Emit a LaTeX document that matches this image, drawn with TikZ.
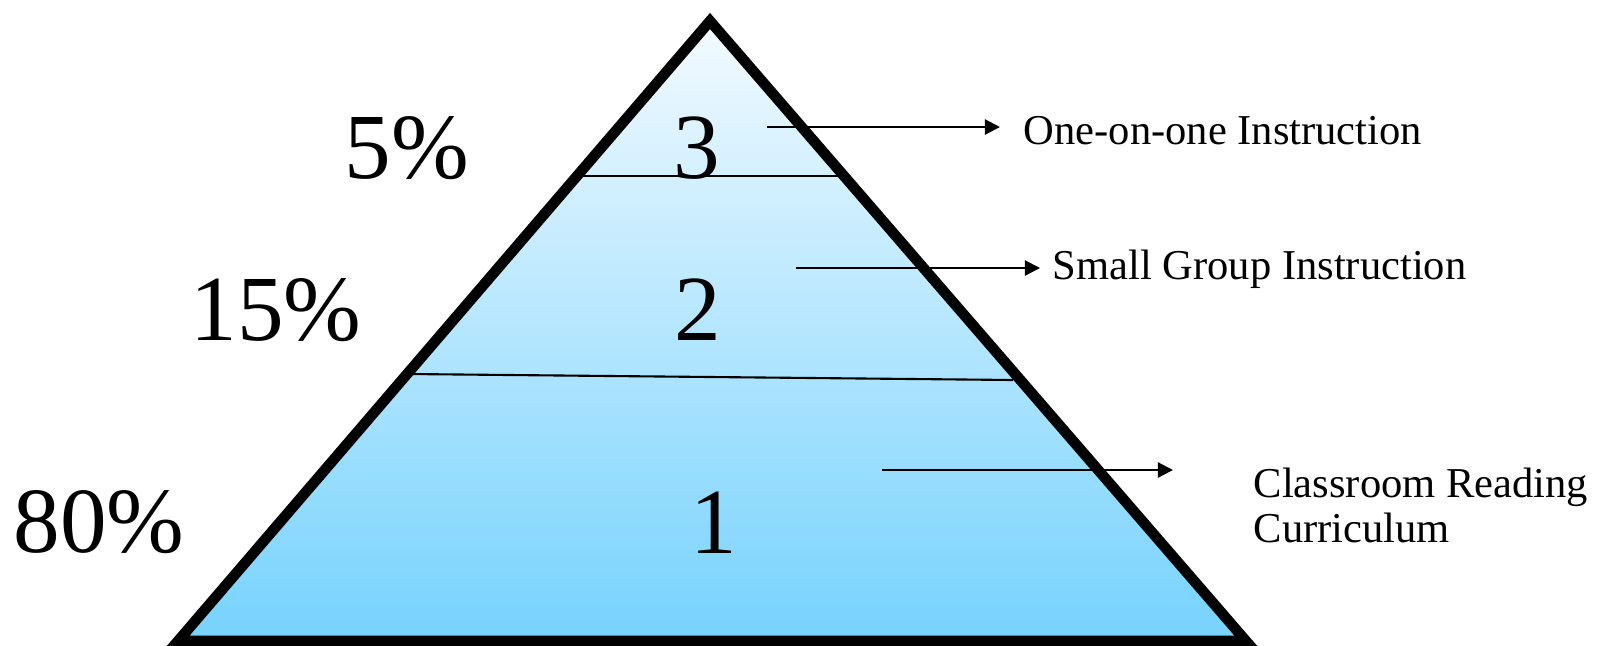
\documentclass[tikz,border=0pt]{standalone}
\usepackage{fontspec}
\setmainfont{Liberation Serif}
\usetikzlibrary{arrows.meta, positioning}

\definecolor{tiptop}{RGB}{243,250,255}
\definecolor{tipbase}{RGB}{118,210,253}

\begin{document}
\begin{tikzpicture}[x=0.01cm, y=-0.01cm,
    bignum/.style={font=\fontsize{26.5}{32}\selectfont, inner sep=0pt, anchor=base},
    sidelabel/.style={font=\fontsize{12.1}{12.8}\selectfont, inner sep=0pt, anchor=base west, align=left},
    pointer/.style={line width=0.6pt, -{Triangle[length=4.3pt, width=4.3pt]}},
    divider/.style={line width=0.6pt}]
  \useasboundingbox (0,0) rectangle (1604,645);

  % corners of the pyramid
  \coordinate (apex) at (710,21);
  \coordinate (baseL) at (178,641);
  \coordinate (baseR) at (1246,641);

  \shade[top color=tiptop, bottom color=tipbase] (apex) -- (baseL) -- (baseR) -- cycle;

  % tier borders
  \coordinate (topL) at (576,176);
  \coordinate (topR) at (845,176);
  \coordinate (midL) at (409,374);
  \coordinate (midR) at (1013,380);
  \draw[divider] (topL) -- (topR);
  \draw[divider] (midL) -- (midR);

  \draw[line width=3pt, line join=miter] (apex) -- (baseL) -- (baseR) -- cycle;

  % tier numbers and shares
  \node[bignum] (tier3) at (697,178) {3};
  \node[bignum] (tier2) at (698,340) {2};
  \node[bignum] (tier1) at (714,553) {1};
  \node[bignum] (share3) at (407,178) {5\%};
  \node[bignum] (share2) at (276,340) {15\%};
  \node[bignum] (share1) at (99,552) {80\%};

  % what each tier means
  \node[sidelabel] (oneonone) at (1023,144) {One-on-one Instruction};
  \node[sidelabel] (smallgroup) at (1052,279) {Small Group Instruction};
  \node[sidelabel] (classroom) at (1253,542) {Classroom Reading\\Curriculum};

  \coordinate (from3) at (767,127);
  \coordinate (to3) at (1000,127);
  \coordinate (from2) at (796,268);
  \coordinate (to2) at (1040,268);
  \coordinate (from1) at (882,470);
  \coordinate (to1) at (1173,470);
  \draw[pointer] (from3) -- (to3);
  \draw[pointer] (from2) -- (to2);
  \draw[pointer] (from1) -- (to1);
\end{tikzpicture}
\end{document}
